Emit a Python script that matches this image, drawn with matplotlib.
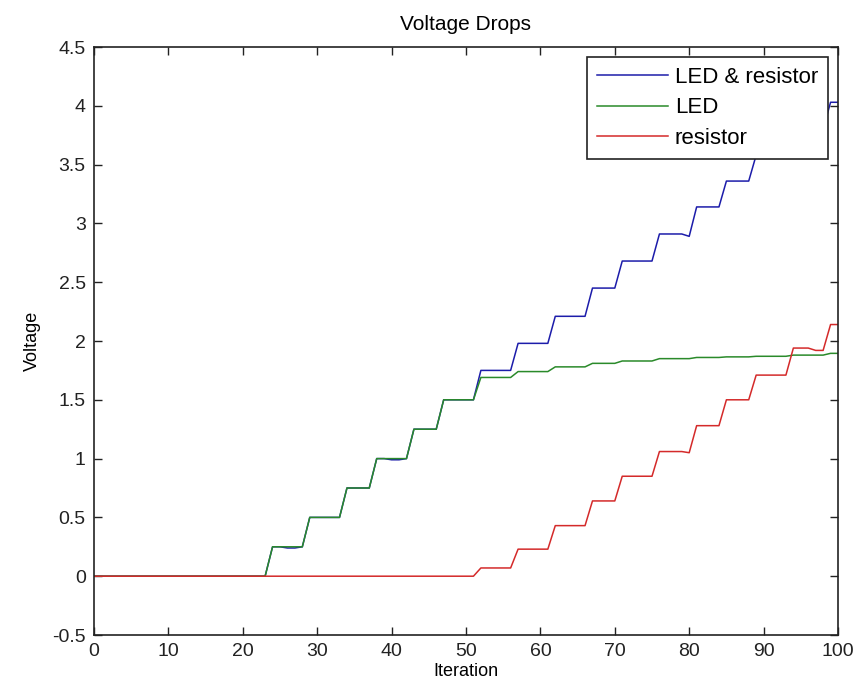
import matplotlib
matplotlib.use("Agg")
import matplotlib.pyplot as plt
import numpy as np

plt.rcParams['font.family'] = ['Liberation Sans', 'DejaVu Sans']

iteration = list(range(0, 101))

# LED voltage drop (one value per iteration)
led = ([0.0] * 24
       + [0.25] * 5
       + [0.50] * 5
       + [0.75] * 4
       + [1.00] * 5
       + [1.25] * 4
       + [1.50] * 5
       + [1.69] * 5
       + [1.74] * 5
       + [1.78] * 5
       + [1.81] * 4
       + [1.83] * 5
       + [1.85] * 5
       + [1.86] * 4
       + [1.865] * 4
       + [1.87] * 5
       + [1.88] * 5
       + [1.895] * 2)

# resistor voltage drop
resistor = ([0.0] * 52
            + [0.07] * 5
            + [0.23] * 5
            + [0.43] * 5
            + [0.64] * 4
            + [0.85] * 5
            + [1.06, 1.06, 1.06, 1.06, 1.05]
            + [1.28] * 4
            + [1.50] * 4
            + [1.71] * 5
            + [1.94, 1.94, 1.94, 1.92, 1.92]
            + [2.14] * 2)

# LED & resistor together
total = ([0.0] * 24
         + [0.25, 0.25, 0.24, 0.24, 0.25]
         + [0.50] * 5
         + [0.75] * 4
         + [1.00, 1.00, 0.99, 0.99, 1.00]
         + [1.25] * 4
         + [1.50] * 5
         + [1.75] * 5
         + [1.98] * 5
         + [2.21] * 5
         + [2.45] * 4
         + [2.68] * 5
         + [2.91, 2.91, 2.91, 2.91, 2.89]
         + [3.14] * 4
         + [3.36] * 4
         + [3.58] * 5
         + [3.82, 3.82, 3.82, 3.80, 3.80]
         + [4.03] * 2)

fig = plt.figure(figsize=(8.59, 6.98), dpi=100)
ax = fig.add_axes([94 / 859, 63 / 698, 744 / 859, 588 / 698])

ax.plot(iteration, total, color='#1c1caa', lw=1.1, label='LED & resistor')
ax.plot(iteration, led, color='#2a8a2a', lw=1.1, label='LED')
ax.plot(iteration, resistor, color='#d42a2a', lw=1.1, label='resistor')

ax.set_xlim(0, 100)
ax.set_ylim(-0.5, 4.5)
ax.set_xticks(np.arange(0, 101, 10))
ax.set_yticks(np.arange(-0.5, 4.51, 0.5))
ax.set_yticklabels(['-0.5', '0', '0.5', '1', '1.5', '2', '2.5', '3', '3.5', '4', '4.5'])

ax.tick_params(direction='in', length=6, width=1, top=True, right=True,
               labelsize=14, pad=6, colors='#222222')
for side in ax.spines.values():
    side.set_linewidth(1.2)
    side.set_color('#222222')

ax.set_title('Voltage Drops', fontsize=15, pad=12)
ax.set_xlabel('Iteration', fontsize=13, labelpad=2)
ax.set_ylabel('Voltage', fontsize=13, labelpad=8)

leg = ax.legend(loc='upper right', fontsize=16, fancybox=False, framealpha=1,
                edgecolor='#222222', borderaxespad=0.45, handlelength=3.2,
                handletextpad=0.3, borderpad=0.45, labelspacing=0.42)
leg.get_frame().set_linewidth(1.2)

fig.savefig('out.png', dpi=100)
